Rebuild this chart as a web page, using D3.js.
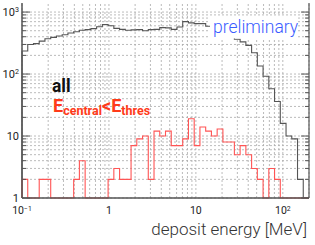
<!DOCTYPE html>
<html>
<head>
<meta charset="utf-8">
<script src="https://cdn.jsdelivr.net/npm/d3@7"></script>
<style>
  body { margin: 0; background: #fff; }
  svg { display: block; font-family: Roboto, "Liberation Sans", sans-serif; }
</style>
</head>
<body>
<div id="chart"></div>
<script>
// 50 log bins between 0.1 and 200 MeV
const binMin = 0.1, binMax = 200, nBins = 50;
const allCounts = [235, 300, 310, 340, 370, 390, 410, 430, 460, 480,
  510, 520, 540, 580, 630, 600, 545, 525, 510, 515,
  520, 500, 520, 525, 560, 555, 525, 575, 700, 670,
  650, 650, 590, 560, 500, 450, 400, 365, 330, 290,
  220, 135, 92, 58, 36, 16, 10, 9, 2, 0];
const lowCounts = [2, 0, 0, 2, 2, 0, 0, 0, 0, 2,
  4, 0, 0, 0, 0, 2, 3, 2, 2, 7,
  9, 10, 2, 12, 10, 12, 7, 7, 9, 19,
  7, 14, 12, 10, 13, 8, 8, 5, 7, 5,
  3, 2, 0, 3, 2, 0, 0, 0, 0, 0];
const xTicks = [0.1, 1, 10, 100];
const yTicks = [1, 10, 100, 1000];

const width = 315, height = 245;
const margin = { left: 22, right: 6, top: 3, bottom: 47 };

const edges = d3.range(nBins + 1).map(i => binMin * Math.pow(binMax / binMin, i / nBins));

const x = d3.scaleLog().domain([binMin, binMax]).range([margin.left, width - margin.right]);
const y = d3.scaleLog().domain([1, 1400]).range([height - margin.bottom, margin.top]);

const svg = d3.select('#chart').append('svg')
    .attr('width', width)
    .attr('height', height);

// minor values for grid
const minor = (lo, hi) => {
  const out = [];
  for (let d = Math.floor(Math.log10(lo)); d <= Math.ceil(Math.log10(hi)); d++) {
    for (let k = 1; k < 10; k++) {
      const v = k * Math.pow(10, d);
      if (v >= lo * 0.999 && v <= hi * 1.001) out.push(v);
    }
  }
  return out;
};
const xGrid = minor(binMin, binMax);
const yGrid = minor(1, 1400);

const grid = svg.append('g')
    .attr('stroke', '#aaa')
    .attr('stroke-width', 0.8)
    .attr('stroke-dasharray', '2,2');

grid.selectAll('line.gx')
  .data(xGrid)
  .join('line')
    .attr('x1', d => x(d)).attr('x2', d => x(d))
    .attr('y1', y.range()[0]).attr('y2', y.range()[1]);

grid.selectAll('line.gy')
  .data(yGrid)
  .join('line')
    .attr('y1', d => y(d)).attr('y2', d => y(d))
    .attr('x1', x.range()[0]).attr('x2', x.range()[1]);

// step path for a histogram
function stepPath(counts) {
  const yb = y.range()[0];
  let p = `M${x(edges[0])},${yb}`;
  counts.forEach((c, i) => {
    const yy = y(Math.max(c, 1));
    p += `V${yy}H${x(edges[i + 1])}`;
  });
  return p + `V${yb}`;
}

svg.append('path')
    .attr('d', stepPath(allCounts))
    .attr('fill', 'none')
    .attr('stroke', '#555')
    .attr('stroke-width', 1.1);

svg.append('path')
    .attr('d', stepPath(lowCounts))
    .attr('fill', 'none')
    .attr('stroke', '#f55')
    .attr('stroke-width', 1.1);

// frame with inward ticks
const frame = svg.append('g').attr('stroke', '#555');
frame.append('line')
    .attr('x1', x.range()[0]).attr('x2', x.range()[0])
    .attr('y1', y.range()[0]).attr('y2', y.range()[1])
    .attr('stroke-width', 1.5);
frame.append('line')
    .attr('x1', x.range()[1]).attr('x2', x.range()[1])
    .attr('y1', y.range()[0]).attr('y2', y.range()[1])
    .attr('stroke-width', 1.2);
frame.append('line')
    .attr('x1', x.range()[0]).attr('x2', x.range()[1])
    .attr('y1', y.range()[0]).attr('y2', y.range()[0])
    .attr('stroke-width', 1.5);

const tickLen = d => (yTicks.includes(d) ? 8 : 4);
frame.selectAll('line.tl')
  .data(yGrid)
  .join('line')
    .attr('x1', x.range()[0]).attr('x2', d => x.range()[0] + tickLen(d))
    .attr('y1', d => y(d)).attr('y2', d => y(d));
frame.selectAll('line.tr')
  .data(yGrid)
  .join('line')
    .attr('x1', x.range()[1]).attr('x2', d => x.range()[1] - tickLen(d))
    .attr('y1', d => y(d)).attr('y2', d => y(d));

// tick labels
const powLabel = (sel, v) => {
  const e = Math.round(Math.log10(v));
  if (e === 0) sel.text('1');
  else if (e === 1) sel.text('10');
  else {
    sel.append('tspan').text('10');
    sel.append('tspan').attr('dy', '-0.5em').attr('font-size', '0.65em').text(e < 0 ? '\u2212' + (-e) : e);
  }
};

svg.append('g')
    .attr('font-size', 11)
    .attr('fill', '#222')
  .selectAll('text')
  .data(yTicks)
  .join('text')
    .attr('x', margin.left - 3)
    .attr('y', d => y(d))
    .attr('dy', '0.35em')
    .attr('text-anchor', 'end')
    .each(function(d) { powLabel(d3.select(this), d); });

svg.append('g')
    .attr('font-size', 10.5)
    .attr('fill', '#222')
  .selectAll('text')
  .data(xTicks)
  .join('text')
    .attr('x', d => x(d))
    .attr('y', y.range()[0] + 16)
    .attr('text-anchor', 'middle')
    .each(function(d) { powLabel(d3.select(this), d); });

svg.append('text')
    .attr('x', width - 8)
    .attr('y', 235)
    .attr('text-anchor', 'end')
    .attr('font-size', 17)
    .attr('font-weight', 300)
    .attr('fill', '#333')
    .text('deposit energy [MeV]');

// legend text
svg.append('text')
    .attr('x', 52)
    .attr('y', 92)
    .attr('font-size', 17.5)
    .attr('font-weight', 'bold')
    .attr('fill', '#111')
    .text('all');

const lab = svg.append('text')
    .attr('x', 53)
    .attr('y', 112)
    .attr('font-size', 18)
    .attr('font-weight', 'bold')
    .attr('fill', '#ff3a1a');
lab.append('tspan').text('E');
lab.append('tspan').attr('font-size', 12.5).attr('dy', 3).text('central');
lab.append('tspan').attr('dy', -3).text('<E');
lab.append('tspan').attr('font-size', 12.5).attr('dy', 3).text('thres');

// label box hides lines behind it
svg.append('rect')
    .attr('x', 210).attr('y', 16)
    .attr('width', 88).attr('height', 22.5)
    .attr('fill', '#fff');

svg.append('text')
    .attr('x', 213)
    .attr('y', 33)
    .attr('font-size', 17.5)
    .attr('font-weight', 300)
    .attr('fill', '#3a5cff')
    .text('preliminary');
</script>
</body>
</html>
